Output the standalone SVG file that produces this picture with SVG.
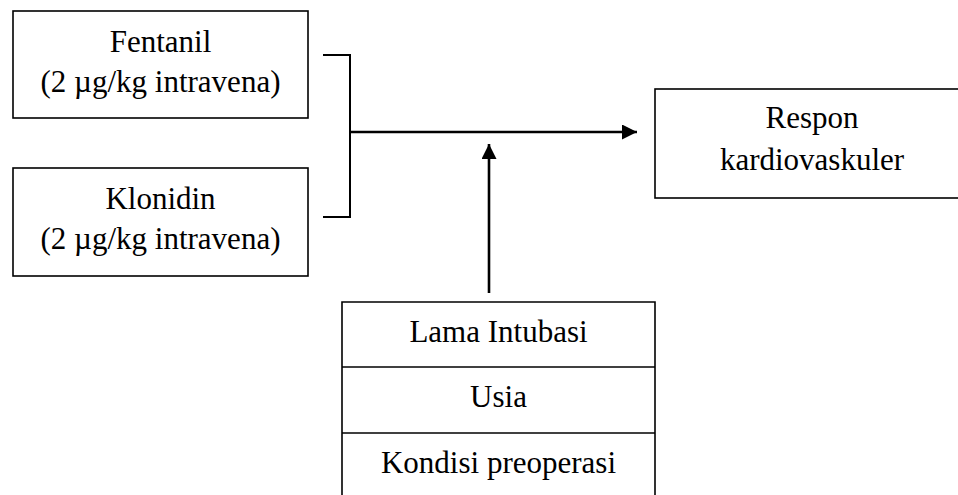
<svg xmlns="http://www.w3.org/2000/svg" width="958" height="495" viewBox="0 0 958 495">
<style>
.box{fill:#fff;stroke:#000;stroke-width:1.6}
.t{font-family:"Liberation Serif","Times New Roman",serif;font-size:31px;fill:#000;text-anchor:middle}
.ln{fill:none;stroke:#000;stroke-width:2}
.ar{fill:none;stroke:#000;stroke-width:2.6}
</style>
<defs>
<marker id="ah" viewBox="0 0 10 10" refX="10" refY="5" markerWidth="15" markerHeight="15" markerUnits="userSpaceOnUse" orient="auto">
<path d="M0,0 L10,5 L0,10 Z" fill="#000"/>
</marker>
</defs>
<g id="fentanil">
<rect class="box" x="13" y="11" width="295" height="107"/>
<text class="t" x="160.5" y="52">Fentanil</text>
<text class="t" x="160.5" y="92">(2 µg/kg intravena)</text>
</g>
<g id="klonidin">
<rect class="box" x="13" y="168" width="295" height="108"/>
<text class="t" x="160.5" y="209">Klonidin</text>
<text class="t" x="160.5" y="249">(2 µg/kg intravena)</text>
</g>
<g id="respon">
<rect class="box" x="655" y="89" width="310" height="109"/>
<text class="t" x="812" y="128">Respon</text>
<text class="t" x="812" y="170">kardiovaskuler</text>
</g>
<g id="faktor">
<path class="box" d="M342,500 V302 H655 V500"/>
<line class="box" x1="342" y1="367" x2="655" y2="367"/>
<line class="box" x1="342" y1="433" x2="655" y2="433"/>
<text class="t" x="498.5" y="342">Lama Intubasi</text>
<text class="t" x="498.5" y="407">Usia</text>
<text class="t" x="498.5" y="473">Kondisi preoperasi</text>
</g>
<g id="connectors">
<path class="ln" d="M323,55 H350 V217 H323"/>
<line class="ar" x1="350" y1="132" x2="637" y2="132" marker-end="url(#ah)"/>
<line class="ar" x1="489" y1="293" x2="489" y2="144" marker-end="url(#ah)"/>
</g>
</svg>
